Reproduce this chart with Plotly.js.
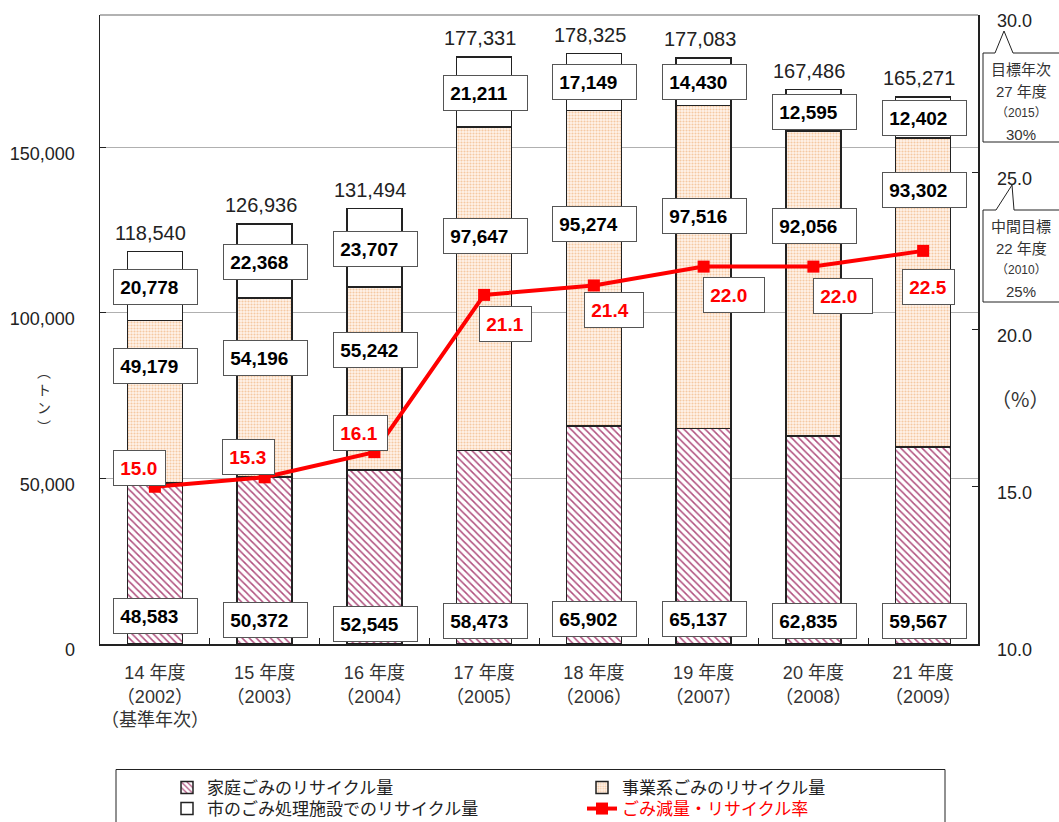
<!DOCTYPE html>
<html><head><meta charset="utf-8">
<script src="https://cdn.plot.ly/plotly-3.0.1.min.js"></script>
<style>html,body{margin:0;padding:0;background:#fff;}#chart{width:1059px;height:822px;}</style>
</head><body><div id="chart"></div>
<script>
// ---- data ----
const categories = ['14 年度','15 年度','16 年度','17 年度','18 年度','19 年度','20 年度','21 年度'];
const years = ['2002','2003','2004','2005','2006','2007','2008','2009'];
const household = [48583,50372,52545,58473,65902,65137,62835,59567];
const business  = [49179,54196,55242,97647,95274,97516,92056,93302];
const facility  = [20778,22368,23707,21211,17149,14430,12595,12402];
const totals    = [118540,126936,131494,177331,178325,177083,167486,165271];
const rate      = [15.0,15.3,16.1,21.1,21.4,22.0,22.0,22.5];
const seriesNames = ['家庭ごみのリサイクル量','事業系ごみのリサイクル量','市のごみ処理施設でのリサイクル量','ごみ減量・リサイクル率'];
const leftTicks = [0,50000,100000,150000];
const rightTicks = [10,15,20,25,30];

// ---- label box placement (left-axis units / pixel shifts) ----
const botPos  = [8459,7250,6042,6948,7553,7553,7099,6948];
const midPos  = [83984,86401,88817,123107,126882,129299,126278,137153];
const topPos  = [107850,115251,119330,166366,169630,169630,160807,158905];
const ratePos = [53019,56342,63743,96672,100901,105433,105131,107850];
const rateShift = [-15,-16,-14,21,20,30,30,5];
const rateW = [49,49,51,49,56,58,56,49];

// plot area in pixels
const L=100, R=978, T=15, B=644;
const px = x => (x-L)/(R-L);
const py = y => (B-y)/(B-T);

const fmt = v => v.toLocaleString('en-US');
const NUM = 'Liberation Sans, Arial, Noto Sans CJK JP, sans-serif';
const JP = 'Noto Sans CJK JP, sans-serif';
const MIX = 'Liberation Sans, Noto Sans CJK JP, sans-serif';

const traces = [
  {type:'bar', name:seriesNames[0], x:categories, y:household, width:0.5, legend:'legend',
   marker:{color:'#ffffff', line:{color:'#222', width:1.5},
     pattern:{shape:'\\', fgcolor:'#b0507e', bgcolor:'#ffffff', size:5, solidity:0.3}}},
  {type:'bar', name:seriesNames[1], x:categories, y:business, width:0.5, legend:'legend',
   marker:{color:'#fdf0e3', line:{color:'#222', width:1.5},
     pattern:{shape:'.', fgcolor:'#f5c9a2', bgcolor:'#fff4ea', size:3, solidity:0.4}}},
  {type:'bar', name:seriesNames[2], x:categories, y:facility, width:0.5, legend:'legend2',
   marker:{color:'#ffffff', line:{color:'#222', width:1.5}}},
  {type:'scatter', mode:'lines+markers', name:'<span style="color:#ff0000">'+seriesNames[3]+'</span>',
   x:categories, y:rate, yaxis:'y2', legend:'legend2',
   line:{color:'#ff0000', width:4}, marker:{symbol:'square', size:12, color:'#ff0000'}}
];

const annotations = [];
const boxStyle = {xref:'x', yref:'y', showarrow:false, bgcolor:'#ffffff', bordercolor:'#555',
  borderwidth:1, borderpad:1, align:'left', valign:'middle', height:32};
categories.forEach((c,i)=>{
  [[botPos,household],[midPos,business],[topPos,facility]].forEach(([pos,vals])=>{
    annotations.push(Object.assign({}, boxStyle, {x:c, y:pos[i], xshift:1, width:81,
      text:'<b>\u00a0'+fmt(vals[i])+'</b>', font:{family:NUM, size:19, color:'#000'}}));
  });
  annotations.push(Object.assign({}, boxStyle, {x:c, y:ratePos[i], xshift:rateShift[i], width:rateW[i],
    text:'<b>\u00a0'+rate[i].toFixed(1)+'</b>', font:{family:NUM, size:19, color:'#ff0000'}}));
  annotations.push({xref:'x', yref:'y', x:c, y:totals[i], yanchor:'bottom', yshift:6, xshift:-4,
    showarrow:false, text:fmt(totals[i]), font:{family:NUM, size:20, color:'#222'}});
});
const P = {xref:'paper', yref:'paper', xanchor:'center', yanchor:'middle', showarrow:false};
// axis unit titles
annotations.push(Object.assign({}, P, {x:px(44), y:py(398),
  text:'︵<br>ト<br>ン<br>︶', font:{family:JP, size:14, color:'#333'}}));
annotations.push(Object.assign({}, P, {x:px(1020), y:py(398),
  text:'（%）', font:{family:JP, size:20, color:'#333'}}));
// callout texts
const call1 = ['目標年次','27 年度','（2015）','30%'];
const call2 = ['中間目標','22 年度','（2010）','25%'];
const c1y = [70,91.7,113.3,135], c2y = [226.7,248.3,270,291.7];
[[call1,c1y],[call2,c2y]].forEach(([t,ys])=>{
  t.forEach((s,k)=>annotations.push(Object.assign({}, P, {x:px(1021), y:py(ys[k]),
    text:s, font:{family:MIX, size:k===2?12:15, color:'#333'}})));
});

function path(pts){return 'M'+pts.map(p=>px(p[0])+','+py(p[1])).join(' L')+' Z';}
const shapes = [
  {type:'line', xref:'paper', yref:'paper', x0:0, x1:1, y0:1, y1:1, line:{color:'#999', width:1.5}},
  {type:'path', xref:'paper', yref:'paper', layer:'below', line:{color:'#222', width:1}, fillcolor:'rgba(255,255,255,1)',
   path:path([[983,53],[995,53],[1004,31],[1013,53],[1075,53],[1075,142],[983,142]])},
  {type:'path', xref:'paper', yref:'paper', layer:'below', line:{color:'#222', width:1}, fillcolor:'rgba(255,255,255,1)',
   path:path([[983,210],[996,210],[1012,185],[1014,210],[1075,210],[1075,302],[983,302]])},
  {type:'rect', xref:'paper', yref:'paper', x0:px(116), x1:px(945), y0:py(769.5), y1:py(840),
   line:{color:'#222', width:1}}
];

const legendBase = {orientation:'h', xref:'paper', yref:'paper', x:px(167), xanchor:'left', yanchor:'top',
  traceorder:'normal', entrywidth:370, entrywidthmode:'pixels', borderwidth:0, bgcolor:'rgba(0,0,0,0)',
  font:{family:MIX, size:17, color:'#222'}, tracegroupgap:0};

const layout = {
  width:1059, height:822, margin:{l:L, r:1059-R, t:T, b:822-B, autoexpand:false},
  paper_bgcolor:'#fff', plot_bgcolor:'#fff', barmode:'stack', showlegend:true,
  font:{family:MIX, color:'#222'},
  xaxis:{type:'category', tickmode:'array', tickvals:categories, tickangle:0, automargin:false,
    ticktext:categories.map((c,i)=>c+'<br>（'+years[i]+'）'+(i===0?'<br>（基準年次）':'')),
    tickson:'boundaries', ticks:'inside', ticklen:6, tickcolor:'#222', showline:true, linecolor:'#222',
    linewidth:1.5, showgrid:false, zeroline:false, tickfont:{family:MIX, size:18, color:'#333'},
    ticklabelstandoff:12},
  yaxis:{range:[0,190000], tickmode:'array', tickvals:leftTicks, ticktext:leftTicks.map(fmt), automargin:false,
    ticks:'inside', ticklen:6, tickcolor:'#222', showline:true, linecolor:'#222', linewidth:1.5,
    showgrid:true, gridcolor:'#b0b0b0', gridwidth:1, zeroline:false,
    tickfont:{family:NUM, size:18, color:'#222'}, ticklabelstandoff:20, ticklabelshift:6},
  yaxis2:{overlaying:'y', side:'right', range:[10,30], tickmode:'array', tickvals:rightTicks, automargin:false,
    ticktext:rightTicks.map(v=>v.toFixed(1)), ticks:'inside', ticklen:6, tickcolor:'#222',
    showline:true, linecolor:'#222', linewidth:1.5, showgrid:false, zeroline:false,
    tickfont:{family:NUM, size:18, color:'#222'}, ticklabelstandoff:14, ticklabelshift:6},
  legend:Object.assign({}, legendBase, {y:py(770)}),
  legend2:Object.assign({}, legendBase, {y:py(791)}),
  annotations:annotations, shapes:shapes
};
Plotly.newPlot('chart', traces, layout, {displayModeBar:false, staticPlot:true});
</script></body></html>
